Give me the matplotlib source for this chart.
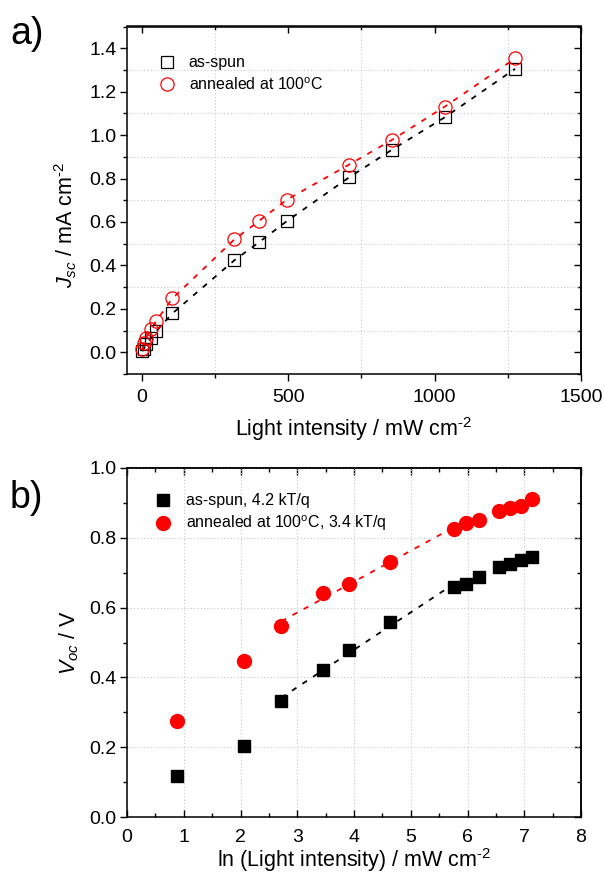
import matplotlib
matplotlib.use("Agg")
import matplotlib.pyplot as plt
import numpy as np
from matplotlib.ticker import MultipleLocator, FormatStrFormatter, NullFormatter

plt.rcParams['font.family'] = ['Liberation Sans', 'DejaVu Sans']
plt.rcParams['mathtext.fontset'] = 'custom'
plt.rcParams['mathtext.rm'] = 'Liberation Sans'
plt.rcParams['mathtext.it'] = 'Liberation Sans:italic'
plt.rcParams['mathtext.bf'] = 'Liberation Sans:bold'

# light intensity (mW cm-2) and its natural log
intensity = [2.4, 7.9, 15.3, 32, 50, 105, 317, 400, 495, 708, 855, 1035, 1275]
ln_intensity = [0.875, 2.06, 2.72, 3.46, 3.91, 4.64, 5.76, 5.98, 6.20, 6.56, 6.75, 6.94, 7.14]

# panel a: short-circuit current density
jsc_asspun = [0.005, 0.017, 0.038, 0.067, 0.098, 0.179, 0.424, 0.506, 0.603, 0.805, 0.933, 1.082, 1.305]
jsc_annealed = [0.014, 0.041, 0.067, 0.106, 0.145, 0.248, 0.520, 0.604, 0.702, 0.864, 0.978, 1.131, 1.353]

# panel b: open-circuit voltage
voc_asspun = [0.118, 0.203, 0.333, 0.421, 0.478, 0.558, 0.658, 0.667, 0.688, 0.717, 0.725, 0.736, 0.746]
voc_annealed = [0.275, 0.448, 0.547, 0.643, 0.668, 0.732, 0.825, 0.842, 0.851, 0.877, 0.884, 0.891, 0.911]

# points used for the linear Voc fit (kT/q slopes)
fit_idx = slice(2, 7)

label_asspun_a = "as-spun"
label_annealed_a = "annealed at 100$^{\\mathrm{o}}$C"
label_asspun_b = "as-spun, 4.2 kT/q"
label_annealed_b = "annealed at 100$^{\\mathrm{o}}$C, 3.4 kT/q"

RED = "#ff0000"
GRID = "#c8c8c8"
TICK_FS = 14
LABEL_FS = 15.5


def style_axes(ax, bottom_dir, xmaj, xmin, ymaj, ymin, xpad):
    for sp in ax.spines.values():
        sp.set_linewidth(1.1)
    ax.xaxis.set_major_locator(MultipleLocator(xmaj))
    ax.xaxis.set_minor_locator(MultipleLocator(xmin))
    ax.yaxis.set_major_locator(MultipleLocator(ymaj))
    ax.yaxis.set_minor_locator(MultipleLocator(ymin))
    ax.yaxis.set_major_formatter(FormatStrFormatter('%.1f'))
    ax.tick_params(which='both', width=1.0, labelsize=TICK_FS, top=False, right=False)
    ax.tick_params(which='major', length=5)
    ax.tick_params(which='minor', length=3)
    ax.tick_params(axis='y', which='both', direction='out', pad=2.5)
    ax.tick_params(axis='x', which='both', direction=bottom_dir, pad=xpad)
    ax.set_axisbelow(True)

    # mirrored ticks on top and right, pointing inward, no labels
    top = ax.secondary_xaxis('top')
    right = ax.secondary_yaxis('right')
    for sec, maj, mnr in [(top.xaxis, xmaj, xmin), (right.yaxis, ymaj, ymin)]:
        sec.set_major_locator(MultipleLocator(maj))
        sec.set_minor_locator(MultipleLocator(mnr))
        sec.set_major_formatter(NullFormatter())
    for sec in (top, right):
        sec.tick_params(which='both', direction='in', width=1.0)
        sec.tick_params(which='major', length=5)
        sec.tick_params(which='minor', length=3)
    top.spines['top'].set_linewidth(1.1)
    right.spines['right'].set_linewidth(1.1)


fig = plt.figure(figsize=(6.04, 8.75), dpi=100)
ax1 = fig.add_axes([127 / 604, 1 - 374 / 875, 454 / 604, 347.5 / 875])
ax2 = fig.add_axes([127 / 604, 1 - 817 / 875, 454 / 604, 349 / 875])

# ---- panel a ----
ax1.plot(intensity, jsc_asspun, ls=(0, (3, 4)), color='black', lw=1.3, zorder=2)
ax1.plot(intensity, jsc_annealed, ls=(0, (3, 4)), color=RED, lw=1.3, zorder=2)
ax1.plot(intensity, jsc_asspun, ls='none', marker='s', ms=8, mfc='none', mec='black', mew=0.9,
         label=label_asspun_a, zorder=3)
ax1.plot(intensity, jsc_annealed, ls='none', marker='o', ms=9.5, mfc='none', mec=RED, mew=0.9,
         label=label_annealed_a, zorder=3)

ax1.set_xlim(-50, 1500)
ax1.set_ylim(-0.1, 1.5)
style_axes(ax1, 'out', 500, 250, 0.2, 0.1, 6.0)
ax1.grid(True, which='minor', ls=(0, (1, 2)), color=GRID, lw=0.8)
ax1.set_xlabel("Light intensity / mW cm$^{\\text{-2}}$", fontsize=LABEL_FS, labelpad=6)
ax1.set_ylabel("$J_{sc}$ / mA cm$^{\\text{-2}}$", fontsize=LABEL_FS)
ax1.yaxis.set_label_coords(-0.105, 0.43)
ax1.legend(loc='upper left', bbox_to_anchor=(0.053, 0.935), frameon=False, fontsize=11.5,
           handlelength=1.2, handletextpad=0.75, labelspacing=0.35, borderaxespad=0)

# ---- panel b ----
ln_arr = np.array(ln_intensity)
for y, c in [(voc_asspun, 'black'), (voc_annealed, RED)]:
    y = np.array(y)
    slope, icpt = np.polyfit(ln_arr[fit_idx], y[fit_idx], 1)
    xs = np.array([ln_arr[fit_idx][0], ln_arr[fit_idx][-1]])
    ax2.plot(xs, slope * xs + icpt, ls=(0, (3, 4)), color=c, lw=1.3, zorder=2)

ax2.plot(ln_intensity, voc_asspun, ls='none', marker='s', ms=9, color='black',
         label=label_asspun_b, zorder=3)
ax2.plot(ln_intensity, voc_annealed, ls='none', marker='o', ms=10, color=RED,
         label=label_annealed_b, zorder=3)

ax2.set_xlim(0, 8)
ax2.set_ylim(0, 1.0)
style_axes(ax2, 'in', 1, 0.5, 0.2, 0.1, 9.0)
ax2.grid(True, which='major', ls=(0, (1, 2)), color=GRID, lw=0.8)
ax2.set_xlabel("ln (Light intensity) / mW cm$^{\\text{-2}}$", fontsize=LABEL_FS, labelpad=-0.5)
ax2.set_ylabel("$V_{oc}$ / V", fontsize=LABEL_FS, labelpad=6)
ax2.legend(loc='upper left', bbox_to_anchor=(0.044, 0.946), frameon=False, fontsize=11.5,
           handlelength=1.2, handletextpad=0.85, labelspacing=0.33, borderaxespad=0)

fig.text(10 / 604, 1 - 44 / 875, "a)", fontsize=27)
fig.text(10 / 604, 1 - 508 / 875, "b)", fontsize=27)

fig.savefig("out.png", dpi=100)
